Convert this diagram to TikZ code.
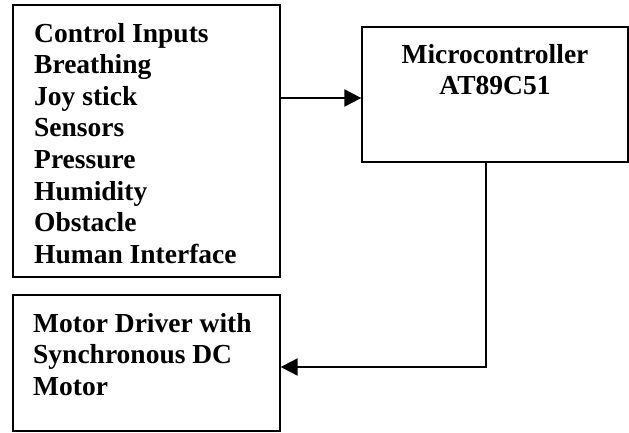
\documentclass[tikz,border=0pt]{standalone}
\usepackage{fontspec}
\setmainfont{Liberation Serif}
\usetikzlibrary{arrows.meta}

\begin{document}
\begin{tikzpicture}[x=1pt,y=-1pt,
  blockbox/.style={draw=black, line width=1.3pt, rectangle, inner sep=0pt},
  blocktext/.style={inner sep=0pt, font=\fontsize{27.5}{31.6}\selectfont\bfseries},
  conn/.style={draw=black, line width=2pt, -{Triangle[length=17pt,width=17pt]}}]
  \useasboundingbox (0,0) rectangle (629,432);

  % blocks
  \node[blockbox, minimum width=267pt, minimum height=272pt] (inputs) at (146.5,141) {};
  \node[blockbox, minimum width=266pt, minimum height=135pt] (mcu) at (495,94.5) {};
  \node[blockbox, minimum width=267pt, minimum height=136pt] (motor) at (146.5,363) {};

  % block captions
  \node[blocktext, anchor=base west] (inputstext) at (34,42)
    {\begin{tabular}[t]{@{}l@{}}Control Inputs\\ Breathing\\ Joy stick\\ Sensors\\ Pressure\\ Humidity\\ Obstacle\\ Human Interface\end{tabular}};
  \node[blocktext, anchor=base] (mcutext) at (495,63)
    {\begin{tabular}[t]{@{}c@{}}Microcontroller\\ AT89C51\end{tabular}};
  \node[blocktext, anchor=base west] (motortext) at (33,332)
    {\begin{tabular}[t]{@{}l@{}}Motor Driver with\\ Synchronous DC\\ Motor\end{tabular}};

  % connectors
  \coordinate (row) at (0,98);
  \coordinate (drop) at (486,367);
  \draw[conn] (inputs.east |- row) -- (mcu.west |- row);
  \draw[conn] (mcu.south -| drop) -- (drop) -- (motor.east |- drop);
\end{tikzpicture}
\end{document}
